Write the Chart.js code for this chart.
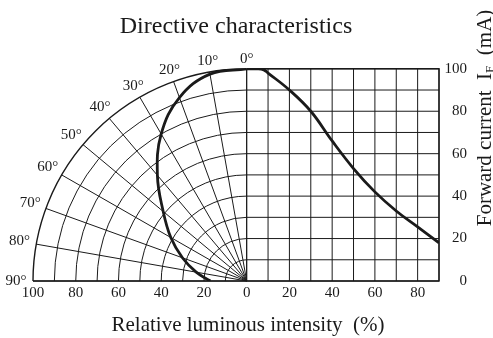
<!DOCTYPE html>
<html>
<head>
<meta charset="utf-8">
<script src="https://cdn.jsdelivr.net/npm/chart.js@4.4.1/dist/chart.umd.min.js"></script>
<style>
  body { margin: 0; background: #fff; }
  #wrap { width: 493px; height: 338px; }
</style>
</head>
<body>
<div id="wrap"><canvas id="chart"></canvas></div>
<script>
// directive characteristics (polar, left half)
const angles = [0, 10, 20, 30, 40, 50, 60, 70, 80, 90];
const intensity = [100, 99, 92, 80, 65, 51, 41, 32, 24, 17];
// forward current derating (right half)
const temperature = [0, 5, 8, 10, 20, 30, 40, 50, 60, 70, 80, 90];
const current = [100, 100, 99.5, 98, 90, 80, 66, 53, 42, 33, 25.5, 18];
// ticks
const xTicks = [-100, -80, -60, -40, -20, 0, 20, 40, 60, 80];
const yTicks = [0, 20, 40, 60, 80, 100];
const angleLabels = ['0°', '10°', '20°', '30°', '40°', '50°', '60°', '70°', '80°', '90°'];

const SERIF = "'Liberation Serif', 'Times New Roman', serif";
const INK = '#1a1a1a';
const rad = d => d * Math.PI / 180;

const polarPoints = angles.map((a, i) => ({
    x: -intensity[i] * Math.sin(rad(a)),
    y: intensity[i] * Math.cos(rad(a))
}));
const currentPoints = temperature.map((t, i) => ({ x: t, y: current[i] }));

const gridPlugin = {
    id: 'gridPlugin',
    beforeDatasetsDraw(chart) {
        const ctx = chart.ctx;
        const xs = chart.scales.x, ys = chart.scales.y;
        const px = v => xs.getPixelForValue(v);
        const py = v => ys.getPixelForValue(v);
        const ox = px(0), oy = py(0);
        const rx = px(1) - ox, ry = oy - py(1);
        ctx.save();
        ctx.strokeStyle = INK;
        ctx.lineWidth = 1;
        // right rectangular grid
        ctx.beginPath();
        for (let t = 0; t <= 90; t += 10) {
            ctx.moveTo(px(t), py(0));
            ctx.lineTo(px(t), py(100));
        }
        for (let c = 0; c <= 100; c += 10) {
            ctx.moveTo(px(0), py(c));
            ctx.lineTo(px(90), py(c));
        }
        ctx.stroke();
        // polar circles
        for (let r = 10; r <= 100; r += 10) {
            ctx.beginPath();
            ctx.ellipse(ox, oy, r * rx, r * ry, 0, Math.PI, 1.5 * Math.PI);
            ctx.lineWidth = r === 100 ? 1.4 : 1;
            ctx.stroke();
        }
        // radial lines
        ctx.lineWidth = 1;
        ctx.beginPath();
        for (let a = 0; a <= 90; a += 10) {
            ctx.moveTo(ox, oy);
            ctx.lineTo(px(-100 * Math.sin(rad(a))), py(100 * Math.cos(rad(a))));
        }
        ctx.stroke();
        // outer border of right grid
        ctx.lineWidth = 1.4;
        ctx.beginPath();
        ctx.moveTo(px(-100), py(0));
        ctx.lineTo(px(90), py(0));
        ctx.lineTo(px(90), py(100));
        ctx.lineTo(px(0), py(100));
        ctx.stroke();
        ctx.restore();
    },
    afterDraw(chart) {
        const ctx = chart.ctx;
        const xs = chart.scales.x, ys = chart.scales.y;
        const px = v => xs.getPixelForValue(v);
        const py = v => ys.getPixelForValue(v);
        ctx.save();
        ctx.fillStyle = INK;
        ctx.textAlign = 'center';
        ctx.textBaseline = 'middle';
        ctx.font = '15px ' + SERIF;
        angles.forEach((a, i) => {
            const r = 104.5 + 3.5 * Math.sin(rad(a));
            ctx.fillText(angleLabels[i], px(-r * Math.sin(rad(a))), py(r * Math.cos(rad(a))));
        });
        // x axis title
        ctx.font = '21px ' + SERIF;
        ctx.textBaseline = 'alphabetic';
        ctx.fillText('Relative luminous intensity  (%)', 248, 331);
        // right axis title with subscript
        ctx.translate(491, 118);
        ctx.rotate(-Math.PI / 2);
        const main1 = 'Forward current  I';
        const sub = 'F';
        const main2 = '  (mA)';
        ctx.font = '21px ' + SERIF;
        const w1 = ctx.measureText(main1).width;
        const w3 = ctx.measureText(main2).width;
        ctx.font = '13px ' + SERIF;
        const w2 = ctx.measureText(sub).width;
        let x = -(w1 + w2 + w3) / 2;
        ctx.textAlign = 'left';
        ctx.font = '21px ' + SERIF;
        ctx.fillText(main1, x, 0);
        x += w1;
        ctx.font = '13px ' + SERIF;
        ctx.fillText(sub, x, 3);
        x += w2;
        ctx.font = '21px ' + SERIF;
        ctx.fillText(main2, x, 0);
        ctx.restore();
    }
};

const config = {
    type: 'scatter',
    data: {
        datasets: [{
                label: 'Directive',
                data: polarPoints,
                showLine: true,
                borderColor: INK,
                borderWidth: 2.8,
                pointRadius: 0,
                tension: 0.4,
            },
            {
                label: 'Forward current',
                data: currentPoints,
                showLine: true,
                borderColor: INK,
                borderWidth: 2.8,
                pointRadius: 0,
                tension: 0.4,
            }
        ]
    },
    options: {
        responsive: true,
        maintainAspectRatio: false,
        animation: false,
        layout: { padding: { left: 33, right: 26, top: 0, bottom: 0 } },
        plugins: {
            legend: { display: false },
            tooltip: { enabled: false },
            title: {
                display: true,
                fullSize: false,
                text: 'Directive characteristics',
                color: INK,
                font: { family: SERIF, size: 24, weight: 'normal' },
                padding: { top: 12, bottom: 28 }
            }
        },
        scales: {
            x: {
                type: 'linear',
                min: -100,
                max: 90,
                afterBuildTicks: s => { s.ticks = xTicks.map(v => ({ value: v })); },
                afterFit: s => { s.height = 57; },
                grid: { display: false, drawTicks: false },
                border: { display: false },
                ticks: {
                    color: INK,
                    padding: 3,
                    maxRotation: 0,
                    font: { family: SERIF, size: 15 },
                    callback: v => Math.abs(v)
                }
            },
            y: {
                type: 'linear',
                position: 'right',
                min: 0,
                max: 100,
                afterBuildTicks: s => { s.ticks = yTicks.map(v => ({ value: v })); },
                afterFit: s => { s.width = 28; },
                grid: { display: false, drawTicks: false },
                border: { display: false },
                ticks: {
                    color: INK,
                    padding: 5,
                    crossAlign: 'far',
                    font: { family: SERIF, size: 15 }
                }
            }
        }
    },
    plugins: [gridPlugin]
};

var chart = new Chart(
    document.getElementById('chart'),
    config
);
</script>
</body>
</html>
